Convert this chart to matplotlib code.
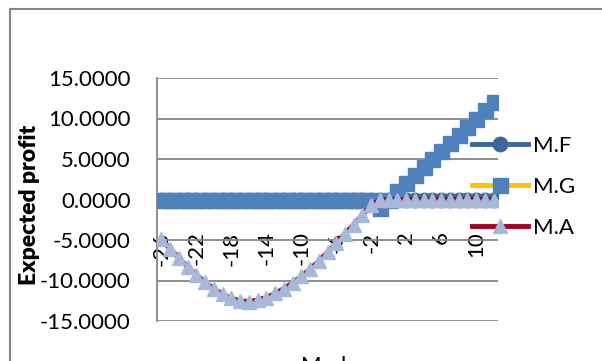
import matplotlib
matplotlib.use("Agg")
import matplotlib.pyplot as plt
from matplotlib.lines import Line2D

plt.rcParams['font.family'] = ['Lato', 'DejaVu Sans']

# categories (Mark) from -26 to 12
marks = list(range(-26, 13))

# expected profit for each model
mf = [0.0] * 39
mg = [0.0] * 25 + [-1.0, 0.0, 1.0, 2.0, 3.0, 4.0, 5.0, 6.0, 7.0, 8.0, 9.0, 10.0, 11.0, 12.0]
ma = [-4.9, -6.1, -7.2, -8.3, -9.3, -10.2, -11.0, -11.7, -12.2, -12.5, -12.6, -12.4,
      -12.1, -11.6, -11.0, -10.3, -9.5, -8.6, -7.6, -6.5, -5.4, -4.2, -3.1, -1.9, -0.7,
      0.0, 0.0, 0.0, 0.0, 0.0, 0.0, 0.0, 0.0, 0.0, 0.0, 0.0, 0.0, 0.0, 0.0]

y_ticks = [-15, -10, -5, 0, 5, 10, 15]
x_label_marks = list(range(-26, 11, 4))

W, H = 602, 361
fig = plt.figure(figsize=(W / 100, H / 100), dpi=100)
ax = fig.add_axes([157 / W, 1 - 321 / H, (498 - 157) / W, (321 - 78) / H])

pos = list(range(len(marks)))
ax.plot(pos, mf, color='#3C679C', lw=3.5, marker='o', ms=10.4,
        mfc='#3C679C', mec='#3C679C', label='M.F', zorder=3)
ax.plot(pos, mg, color='#FFC000', lw=3.5, marker='s', ms=10.8,
        mfc='#4F81BD', mec='#4F81BD', label='M.G', zorder=4)
ax.plot(pos, ma, color='#A50021', lw=3.5, marker='^', ms=10.5,
        mfc='#A6B9DA', mec='#A6B9DA', label='M.A', zorder=5)

# axis lines first: moving a spine resets the ticks
for s in ['top', 'right']:
    ax.spines[s].set_visible(False)
ax.spines['left'].set_color('#868686')
ax.spines['left'].set_linewidth(1.3)
ax.spines['bottom'].set_position(('data', 0))
ax.spines['bottom'].set_color('#868686')
ax.spines['bottom'].set_linewidth(1.3)

ax.set_xlim(-0.5, len(marks) - 0.5)
ax.set_ylim(-15, 15)
ax.set_yticks(y_ticks)
ax.set_yticklabels([f"{v:.4f}" for v in y_ticks], fontsize=16)
ax.set_xticks([marks.index(m) for m in x_label_marks])
ax.set_xticklabels([str(m) for m in x_label_marks], fontsize=16)
ax.tick_params(axis='y', length=0, pad=19)
ax.tick_params(axis='x', length=0, pad=23, labelrotation=90)
ax.xaxis.set_zorder(10)  # category labels sit on top of the markers
ax.grid(axis='y', color='#868686', lw=1.3)
ax.set_axisbelow(True)

fig.text(30 / W, 1 - 205 / H, 'Expected profit', rotation=90, ha='center',
         va='center', fontsize=16.5, fontweight='heavy')
fig.text(327 / W, 1 - 356 / H, 'Mark', ha='center', va='top', fontsize=16)

leg = ax.legend(loc='center left', bbox_to_anchor=(472 / W, 1 - 187 / H),
                bbox_transform=fig.transFigure, frameon=False, fontsize=16,
                handlelength=2.5, handletextpad=0.25, labelspacing=0.95,
                borderpad=0, borderaxespad=0)
leg.set_zorder(11)

# outer chart frame
fig.add_artist(Line2D([10 / W, 10 / W], [0, 1 - 9 / H], color='#868686', lw=1.5))
fig.add_artist(Line2D([10 / W, 1], [1 - 9 / H, 1 - 9 / H], color='#868686', lw=1.5))

fig.savefig('out.png', dpi=100)
